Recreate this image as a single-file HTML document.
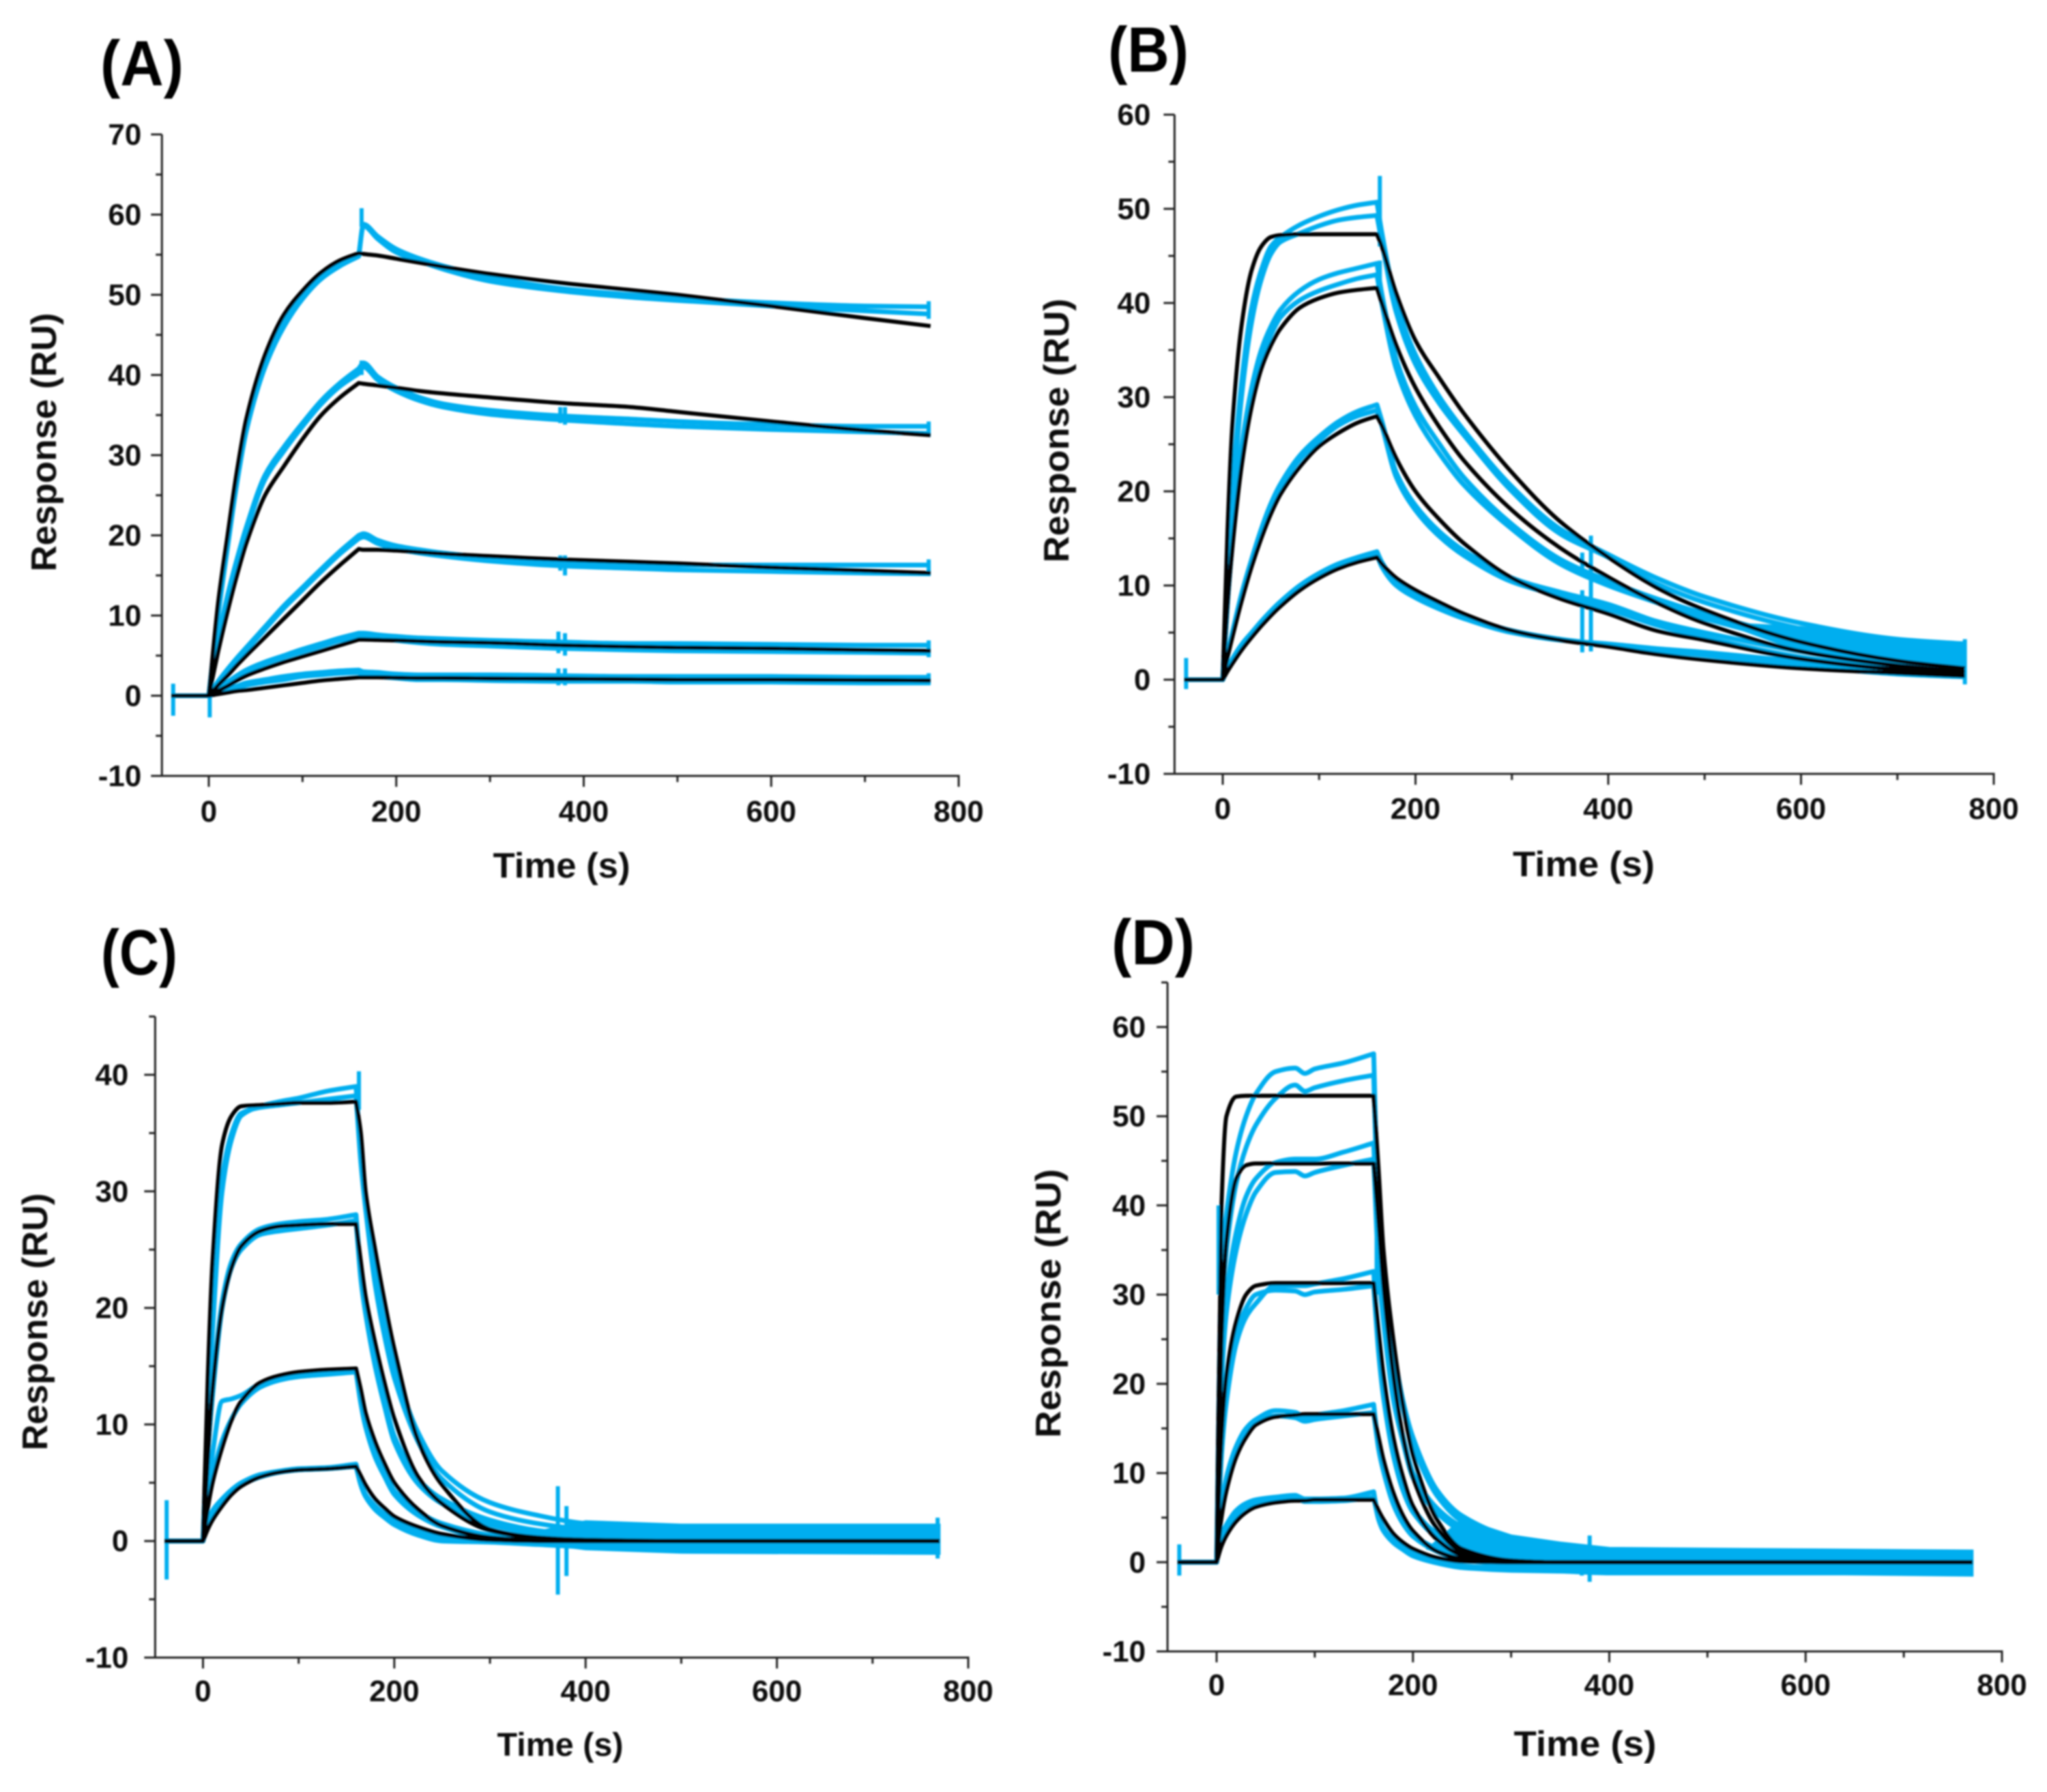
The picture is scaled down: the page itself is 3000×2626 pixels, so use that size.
<!DOCTYPE html>
<html lang="en">
<head>
<meta charset="utf-8">
<title>Sensorgram panels A to D</title>
<style>
html,body{margin:0;padding:0;background:#fff;}
svg{display:block;}
text{font-family:"Liberation Sans",sans-serif;font-weight:bold;fill:#111;}
.tick{font-size:44px;}
.title{font-size:52px;}
.panel{font-size:94px;fill:#000;}
</style>
</head>
<body>
<svg id="chart" xmlns="http://www.w3.org/2000/svg" width="3000" height="2626" viewBox="0 0 3000 2626">
<defs><filter id="soft" x="0" y="0" width="100%" height="100%"><feGaussianBlur stdDeviation="1.2"/></filter></defs>
<rect width="3000" height="2626" fill="#fff"/>
<g filter="url(#soft)">
<g id="panel-a">
<text class="panel" x="147" y="125" textLength="122" lengthAdjust="spacingAndGlyphs">(A)</text>
<text class="title" x="823" y="1286" text-anchor="middle" textLength="201" lengthAdjust="spacingAndGlyphs">Time (s)</text>
<text class="title" transform="translate(82,648) rotate(-90)" text-anchor="middle" textLength="379" lengthAdjust="spacingAndGlyphs">Response (RU)</text>
</g>
<g id="panel-b">
<text class="panel" x="1624" y="105" textLength="118" lengthAdjust="spacingAndGlyphs">(B)</text>
<text class="title" x="2321" y="1284" text-anchor="middle" textLength="208" lengthAdjust="spacingAndGlyphs">Time (s)</text>
<text class="title" transform="translate(1566,631) rotate(-90)" text-anchor="middle" textLength="387" lengthAdjust="spacingAndGlyphs">Response (RU)</text>
</g>
<g id="panel-c">
<text class="panel" x="148" y="1428" textLength="112" lengthAdjust="spacingAndGlyphs">(C)</text>
<text class="title" x="821" y="2573" text-anchor="middle" textLength="185" lengthAdjust="spacingAndGlyphs" style="font-size:48px">Time (s)</text>
<text class="title" transform="translate(69,1937) rotate(-90)" text-anchor="middle" textLength="377" lengthAdjust="spacingAndGlyphs">Response (RU)</text>
</g>
<g id="panel-d">
<text class="panel" x="1629" y="1413" textLength="122" lengthAdjust="spacingAndGlyphs">(D)</text>
<text class="title" x="2323" y="2573" text-anchor="middle" textLength="209" lengthAdjust="spacingAndGlyphs">Time (s)</text>
<text class="title" transform="translate(1554,1910) rotate(-90)" text-anchor="middle" textLength="394" lengthAdjust="spacingAndGlyphs">Response (RU)</text>
</g>
</g>
</svg>
<script>
// Shared tick values
const xMajorTicks = [0, 200, 400, 600, 800];
const xMinorTicks = [100, 300, 500, 700];

// Panel A data
const aTimes = [-40,0,10,20,30,40,60,80,100,120,140,160,165,180,200,225,250,300,375,450,500,600,700,770];
const aFit1 = [0,0,11.6,20,28,34.5,42.5,47.5,50.5,52.8,54.3,55.2,55.1,54.9,54.5,54,53.5,52.6,51.5,50.6,50,48.6,47.1,46.1];
const aFit2 = [0,0,5.5,10.5,15,19,25,28.6,32,35,37.2,39,38.9,38.7,38.4,38,37.7,37.2,36.5,36,35.4,34.2,33.1,32.5];
const aFit3 = [0,0,1.3,2.5,3.8,5,7.3,9.6,11.9,14.2,16.3,18.3,18.2,18.2,18.1,17.9,17.7,17.4,17,16.7,16.5,16,15.6,15.3];
const aFit4 = [0,0,.6,1.2,1.9,2.5,3.4,4.2,4.9,5.6,6.3,7,7,6.95,6.9,6.8,6.7,6.6,6.3,6.1,6,5.9,5.7,5.6];
const aFit5 = [0,0,.2,.4,.6,.7,1,1.3,1.6,1.9,2.1,2.3,2.3,2.3,2.25,2.2,2.2,2.15,2.1,2.05,2,2,1.95,1.9];
const aObs1a = [0,0,10,18.5,26.5,33,41,46,49.5,52,53.6,54.8,58.8,57.3,55.7,54.5,53.6,52.2,50.8,50,49.6,49,48.6,48.5];
const aObs1b = [0,0,10.5,19,27,33.5,41.5,46.5,50,52.3,53.8,55,58.6,57,55.3,54.2,53.2,51.7,50.5,49.7,49.3,48.6,48,47.6];
const aObs2a = [0,0,7,12.5,17,21,27.5,31,34,36.8,39,40.8,41.5,39.8,38.4,37.2,36.4,35.6,34.9,34.5,34.2,33.8,33.6,33.6];
const aObs2b = [0,0,6.5,12,16.5,20.5,27,30.5,33.6,36.4,38.6,40.2,41,39.4,38,36.8,36,35.1,34.4,33.9,33.6,33.2,32.9,32.7];
const aObs3a = [0,0,1.8,3.3,4.7,6,8.6,11.2,13.5,15.8,18,20,20.2,19.4,18.7,18.2,17.8,17.2,16.6,16.4,16.3,16.3,16.3,16.3];
const aObs3b = [0,0,1.6,3,4.4,5.7,8.3,10.9,13.2,15.5,17.7,19.6,19.8,19,18.3,17.8,17.4,16.8,16.2,15.9,15.7,15.5,15.3,15.2];
const aObs4a = [0,0,.9,1.7,2.5,3.2,4.2,5,5.8,6.5,7.2,7.8,7.8,7.6,7.4,7.2,7.1,6.9,6.7,6.5,6.5,6.4,6.3,6.3];
const aObs4b = [0,0,.8,1.5,2.3,3,4,4.8,5.5,6.2,6.9,7.4,7.5,7.2,6.9,6.6,6.4,6.2,5.9,5.7,5.6,5.5,5.4,5.3];
const aObs5a = [0,0,.4,.8,1.2,1.6,2,2.4,2.7,2.9,3.1,3.2,3,2.9,2.7,2.6,2.6,2.6,2.5,2.4,2.4,2.4,2.3,2.3];
const aObs5b = [0,0,.3,.6,1,1.3,1.7,2,2.4,2.6,2.8,2.9,2.6,2.4,2.2,2,2,1.9,1.8,1.8,1.7,1.7,1.6,1.6];
const aSpikes = [[-38,-2.5,1.5],[1,-2.7,1],[163,58.5,60.8],[163,40,41.8],[373,1.3,3.4],[380,1.3,3.4],[373,5.3,8],[380,5,7.8],[375,34,36],[380,33.8,36],[375,15.6,17.5],[380,15,17.5],[768,1.4,2.8],[768,4.8,6.9],[768,15,17],[768,32.3,34.2],[768,47,49.2]];
const aYMajor = [-10,0,10,20,30,40,50,60,70];

// Panel B data
const bTimes = [-40,0,5,10,20,30,40,50,60,80,100,120,140,160,165,180,200,225,250,300,350,400,450,500,600,700,770];
const bFit1 = [0,0,16,27,38,43.5,46,47,47.2,47.3,47.3,47.3,47.3,47.3,46,41,36,32,28.3,22,16.8,13,9.8,7.4,4,2,1.2];
const bFit2 = [0,0,8,14,23,29,33,35.5,37.3,39.5,40.5,41.1,41.4,41.6,40,35.5,31,26.8,23.3,18,14,10.9,8.2,6,3,1.5,.8];
const bFit3 = [0,0,2.4,4.5,8.5,12,15,17.6,19.7,22.6,24.8,26.2,27.3,28,27,23.5,20,17,14.5,10.8,8.6,7,5.2,4.2,2.2,1.1,.8];
const bFit4 = [0,0,.9,1.7,3.2,4.5,5.7,6.8,7.8,9.5,10.8,11.8,12.5,13,12.3,10.8,9.5,8.2,7,5.2,4.2,3.5,2.7,2.1,1.2,.7,.4];
const bObs1a = [0,0,11,20,32,39.5,43.5,46,47,48.3,49.2,49.9,50.4,50.7,47.5,40,34.5,30,26.5,20.5,16,13.3,10.8,8.8,6,4.3,3.8];
const bObs1b = [0,0,10,18.5,30.5,38,42.5,45.2,46.5,47.4,48.2,48.8,49.1,49.3,46.5,39,33.5,29.3,26,20,15.5,13,10.2,8.2,5.4,3.6,3];
const bObs2a = [0,0,8.5,15,25,31,35,37.5,39.3,41.3,42.5,43.2,43.7,44.2,41,34,29,25,21.5,16.5,12.8,10.5,8.6,7,4.5,3,2.2];
const bObs2b = [0,0,8.2,14.5,24,30,34,36.6,38.5,40.3,41.3,42,42.6,43,40,33,28,24,20.7,16,12.3,10,8.2,6.5,4,2.4,1.6];
const bObs3a = [0,0,2.8,5,9.3,12.8,16,18.7,20.8,23.8,25.8,27.4,28.5,29.2,27.5,22,18.5,15.7,13.7,10.8,9.3,8,6.2,5,3,1.6,1.1];
const bObs3b = [0,0,2.6,4.8,9,12.4,15.6,18.3,20.4,23.4,25.4,27,28,28.6,27,21.5,18,15.2,13.2,10.4,8.9,7.5,5.8,4.5,2.4,1.2,.7];
const bObs4a = [0,0,1.2,2.2,3.8,5,6.2,7.3,8.3,10,11.3,12.3,13,13.6,12.5,10.3,9,7.8,6.8,5.2,4.3,3.7,3.1,2.6,1.5,.6,.3];
const bObs4b = [0,0,1.1,2,3.6,4.8,6,7.1,8,9.7,11,12,12.7,13.3,12,10,8.7,7.5,6.5,5,4.2,3.8,3.3,2.9,1.9,1,.6];
const bSpikes = [[-38,-1,2.3],[163,46,53.5],[163,41,44.5],[373,2.9,9.5],[382,3,15.3],[373,11,13.5],[770,-.5,4.3]];
const bBandTimes = [520,600,700,770];
const bBandTop = [6,5.6,4.2,3.9];
const bBandBottom = [6,3,1,.2];
const bYMajor = [-10,0,10,20,30,40,50,60];

// Panel C data
const cTimes = [-40,0,5,10,20,30,40,60,80,100,130,160,165,170,180,190,200,225,250,300,350,400,500,770];
const cFit1 = [0,0,14,24,34,36.5,37.3,37.4,37.5,37.6,37.6,37.7,35,30,25,20.5,16.5,8.6,4.8,1,.3,.1,0,0];
const cFit2 = [0,0,7,13,20,23.5,25.3,26.6,27,27.1,27.2,27.2,24,21,17,13.5,10.5,5.5,3.2,.9,.25,0,0,0];
const cFit3 = [0,0,2.8,5,8,10.4,12,13.6,14.2,14.5,14.7,14.8,13,11,8.5,6.6,5,2.7,1.3,.3,.05,0,0,0];
const cFit4 = [0,0,1,1.8,3,4,4.7,5.5,5.9,6.1,6.2,6.4,5.6,4.8,3.6,2.8,2.1,1.2,.6,.1,0,0,0,0];
const cObs1a = [0,0,10,18,30,34.5,36.5,37.3,37.7,38,38.6,39,33,29,23,18.5,15,9.3,6,3.3,2.2,1.5,1,1];
const cObs1b = [0,0,11,19,31,35,36.7,37.2,37.4,37.6,37.9,38.2,32.5,28.5,22,17.5,14,8.5,5.3,2.5,1.5,1,.7,.7];
const cObs2a = [0,0,8,13,20.5,24,25.5,26.8,27.2,27.4,27.6,28,23,20,15.5,12,9,5.3,3.6,1.8,.9,.5,.3,.3];
const cObs2b = [0,0,7.5,12.5,20,23.5,25,26.3,26.6,26.8,27.1,27.5,22.5,19.5,15,11.5,8.5,4.9,3.2,1.4,.6,.2,0,-.1];
const cObs3a = [0,0,4,7.5,12,12.2,12.5,13.5,14,14.3,14.5,14.7,12,10,7.5,5.8,4.3,2.5,1.5,.5,0,-.2,-.3,-.3];
const cObs3b = [0,0,3,5.5,8.6,10.5,11.8,13.2,13.8,14.1,14.3,14.5,11.8,9.8,7.2,5.5,4,2.2,1.2,.2,-.2,-.4,-.5,-.5];
const cObs4a = [0,0,1.5,2.6,3.6,4.4,5,5.7,6,6.2,6.3,6.6,5,4,3,2.3,1.8,.8,.3,.2,.1,.1,.1,.1];
const cObs4b = [0,0,1.3,2.3,3.3,4.2,4.8,5.5,5.9,6.1,6.2,6.4,4.8,3.8,2.7,2,1.4,.5,0,-.1,-.3,-.5,-.7,-.7];
const cSpikes = [[-38,-3.3,3.5],[371,-4.6,4.7],[380,-3,3],[163,37,40.3],[768,-1.5,2]];
const cBandTimes = [350,400,500,770];
const cBandTop = [.8,1.7,1.4,1.4];
const cBandBottom = [-.2,-.7,-1,-1.1];
const cYMajor = [-10,0,10,20,30,40];

// Panel D data
const dTimes = [-40,0,5,10,20,30,40,60,80,90,100,130,160,165,170,180,190,200,225,250,300,350,400,770];
const dFit1 = [0,0,40,50,52.2,52.3,52.3,52.3,52.3,52.3,52.3,52.3,52.3,44,35,25,17.5,12,4.7,1.5,.2,0,0,0];
const dFit2 = [0,0,25,36,43,44.5,44.7,44.7,44.7,44.7,44.7,44.7,44.7,38,31,21,14,9.5,3.7,1.2,.15,0,0,0];
const dFit3 = [0,0,14,21,27,30,31,31.3,31.3,31.3,31.3,31.3,31.3,26,21,14,9.5,6.3,2.5,.8,.1,0,0,0];
const dFit4 = [0,0,5,8,11.8,14,15.4,16.3,16.5,16.6,16.6,16.6,16.6,14,11.5,7.8,5.2,3.5,1.2,.4,0,0,0,0];
const dFit5 = [0,0,1.8,3,4.6,5.6,6.2,6.7,6.9,6.9,7,7,7,5.8,4.8,3.2,2.2,1.5,.5,.1,0,0,0,0];
const dObs1a = [0,0,33,39,46,50,52.5,55,55.4,54.8,55.3,56,57,38,32,24,18,14,8,5.2,2.8,1.8,1.2,1];
const dObs1b = [0,0,28,35,42.5,46.5,49,52,53.5,52.8,53.2,54,54.6,37,31,23,17.2,13.2,7.4,4.6,2.3,1.4,.9,.6];
const dObs2a = [0,0,22,30,37,41,43,44.8,45.2,45.2,45.2,46,47,34,28,19,14,10,6,4,2.2,1.4,1,.9];
const dObs2b = [0,0,20,28,35,39,41.5,43.7,43.8,43.3,43.7,44.5,45.2,33,27,18.3,13.4,9.5,5.5,3.5,1.8,1,.6,.5];
const dObs3a = [0,0,12,18,24.5,27.5,29,31,31,31,31.2,31.8,32.6,24,19,12.5,8.5,6,3.2,2,1,.6,.3,.3];
const dObs3b = [0,0,13,19,25.5,28.5,30,30.5,30.4,30,30.3,30.6,31,23.5,18.5,12,8,5.6,2.8,1.6,.6,.2,0,0];
const dObs4a = [0,0,6,9.5,13,15,16,17,16.8,16.3,16.5,17,17.7,13,10.5,6.8,4.6,3.1,1.5,.6,-.1,-.5,-.7,-.7];
const dObs4b = [0,0,5.6,9,12.6,14.6,15.6,16.4,16.2,15.8,16,16.4,16.8,12.7,10.2,6.5,4.3,2.9,1.2,.3,-.3,-.7,-.9,-.9];
const dObs5a = [0,0,3,4.2,5.8,6.6,7,7.3,7.5,7.1,7.1,7.2,7.9,5,3.8,2.5,1.7,1,.1,-.4,-.7,-.8,-1,-1];
const dObs5b = [0,0,2.6,3.8,5.3,6.2,6.6,7,7.2,6.8,6.8,6.9,7.3,4.8,3.5,2.2,1.4,.7,-.1,-.6,-.9,-1,-1.2,-1.2];
const dSpikes = [[-38,-1.5,2],[2,30,40],[163,30,46],[380,-2.2,3],[372,-1.5,1.7]];
const dBandTimes = [215,250,300,350,400,770];
const dBandTop = [1.5,4.8,3,2.2,1.6,1.3];
const dBandBottom = [1.5,.4,-.9,-1,-1.1,-1.5];
const dYMajor = [-10,0,10,20,30,40,50,60];

const NS = 'http://www.w3.org/2000/svg';
const BLUE = '#00aeef';

function mk(parent, tag) {
  const el = document.createElementNS(NS, tag);
  parent.appendChild(el);
  return el;
}

// Monotone cubic through the screen points; corners stay sharp at the
// injection start (t = 0) and the switch to dissociation (t = 160).
function smoothPath(ts, xs, ys) {
  const n = xs.length;
  const slope = [];
  for (let i = 0; i < n - 1; i++) slope.push((ys[i + 1] - ys[i]) / (xs[i + 1] - xs[i]));
  const tanL = new Array(n).fill(0);
  const tanR = new Array(n).fill(0);
  for (let i = 0; i < n; i++) {
    const a = i > 0 ? slope[i - 1] : slope[0];
    const b = i < n - 1 ? slope[i] : slope[n - 2];
    if (ts[i] === 0 || ts[i] === 160) {
      tanL[i] = a;
      tanR[i] = b;
    } else {
      const m = a * b <= 0 ? 0 : 2 * a * b / (a + b);
      tanL[i] = m;
      tanR[i] = m;
    }
  }
  let d = 'M' + xs[0].toFixed(1) + ' ' + ys[0].toFixed(1);
  for (let i = 0; i < n - 1; i++) {
    const h = (xs[i + 1] - xs[i]) / 3;
    d += 'C' + (xs[i] + h).toFixed(1) + ' ' + (ys[i] + tanR[i] * h).toFixed(1) + ' ' +
      (xs[i + 1] - h).toFixed(1) + ' ' + (ys[i + 1] - tanL[i + 1] * h).toFixed(1) + ' ' +
      xs[i + 1].toFixed(1) + ' ' + ys[i + 1].toFixed(1);
  }
  return d;
}

function drawPanel(cfg) {
  const g = document.getElementById(cfg.id);
  const sx = v => cfg.x0 + (v / 800) * (cfg.x800 - cfg.x0);
  const sy = v => cfg.yLow + (v - cfg.minY) * (cfg.yRef - cfg.yLow) / (cfg.refY - cfg.minY);
  const lineOf = (ts, vs) => ts.map((t, i) => sx(t).toFixed(1) + ',' + sy(vs[i]).toFixed(1)).join(' ');
  const curveOf = (ts, vs) => smoothPath(ts, ts.map(sx), vs.map(sy));

  if (cfg.bandTimes) {
    const band = mk(g, 'polygon');
    
    
    const back = cfg.bandTimes.slice().reverse();
    const backV = cfg.bandBottom.slice().reverse();
    band.setAttribute('points', lineOf(cfg.bandTimes, cfg.bandTop) + ' ' + lineOf(back, backV));
    band.setAttribute('fill', BLUE);
    band.setAttribute('stroke', BLUE);
    band.setAttribute('stroke-width', '3');
  }
  cfg.observed.forEach(vs => {
    const line = mk(g, 'path');
    
    
    line.setAttribute('d', curveOf(cfg.times, vs));
    line.setAttribute('fill', 'none');
    line.setAttribute('stroke', BLUE);
    line.setAttribute('stroke-width', '7');
    line.setAttribute('stroke-linejoin', 'round');
  });
  cfg.spikes.forEach(s => {
    const spike = mk(g, 'line');
    
    
    spike.setAttribute('x1', sx(s[0]));
    spike.setAttribute('x2', sx(s[0]));
    spike.setAttribute('y1', sy(s[1]));
    spike.setAttribute('y2', sy(s[2]));
    spike.setAttribute('stroke', BLUE);
    spike.setAttribute('stroke-width', '6');
  });
  cfg.fits.forEach(vs => {
    const line = mk(g, 'path');
    
    
    line.setAttribute('d', curveOf(cfg.times, vs));
    line.setAttribute('fill', 'none');
    line.setAttribute('stroke', '#000');
    line.setAttribute('stroke-width', '6');
    line.setAttribute('stroke-linejoin', 'round');
  });

  const axisX = sx(-50);
  const yBase = sy(cfg.minY);
  const yAxis = mk(g, 'line');
  
  
  yAxis.setAttribute('x1', axisX);
  yAxis.setAttribute('x2', axisX);
  yAxis.setAttribute('y1', sy(cfg.maxY));
  yAxis.setAttribute('y2', yBase + 1.5);
  yAxis.setAttribute('stroke', '#222');
  yAxis.setAttribute('stroke-width', '3');
  const xAxis = mk(g, 'line');
  
  
  xAxis.setAttribute('x1', axisX);
  xAxis.setAttribute('x2', sx(800) + 1.5);
  xAxis.setAttribute('y1', yBase);
  xAxis.setAttribute('y2', yBase);
  xAxis.setAttribute('stroke', '#222');
  xAxis.setAttribute('stroke-width', '3');

  xMajorTicks.forEach(v => {
    const t = mk(g, 'line');
    
    
    t.setAttribute('x1', sx(v));
    t.setAttribute('x2', sx(v));
    t.setAttribute('y1', yBase);
    t.setAttribute('y2', yBase + 16);
    t.setAttribute('stroke', '#222');
    t.setAttribute('stroke-width', '3');
    const lab = mk(g, 'text');
    
    
    lab.setAttribute('class', 'tick');
    lab.setAttribute('x', sx(v));
    lab.setAttribute('y', yBase + cfg.xLabelGap);
    lab.setAttribute('text-anchor', 'middle');
    lab.textContent = String(v);
  });
  xMinorTicks.forEach(v => {
    const t = mk(g, 'line');
    
    
    t.setAttribute('x1', sx(v));
    t.setAttribute('x2', sx(v));
    t.setAttribute('y1', yBase);
    t.setAttribute('y2', yBase + 9);
    t.setAttribute('stroke', '#222');
    t.setAttribute('stroke-width', '3');
  });
  cfg.yMajor.forEach(v => {
    const t = mk(g, 'line');
    
    
    t.setAttribute('x1', axisX - 16);
    t.setAttribute('x2', axisX);
    t.setAttribute('y1', sy(v));
    t.setAttribute('y2', sy(v));
    t.setAttribute('stroke', '#222');
    t.setAttribute('stroke-width', '3');
    const lab = mk(g, 'text');
    
    
    lab.setAttribute('class', 'tick');
    lab.setAttribute('x', axisX - cfg.yLabelGap);
    lab.setAttribute('y', sy(v) + 15);
    lab.setAttribute('text-anchor', 'end');
    lab.textContent = String(v);
    const minorV = v + 5;
    if (minorV <= cfg.maxY) {
      const m = mk(g, 'line');
      
      
      m.setAttribute('x1', axisX - 9);
      m.setAttribute('x2', axisX);
      m.setAttribute('y1', sy(minorV));
      m.setAttribute('y2', sy(minorV));
      m.setAttribute('stroke', '#222');
      m.setAttribute('stroke-width', '3');
    }
  });
}

drawPanel({id:'panel-a', x0:306, x800:1405, yLow:1137, minY:-10, yRef:197, refY:70, maxY:70, xLabelGap:67, yLabelGap:30,
  times:aTimes, fits:[aFit1,aFit2,aFit3,aFit4,aFit5],
  observed:[aObs1a,aObs1b,aObs2a,aObs2b,aObs3a,aObs3b,aObs4a,aObs4b,aObs5a,aObs5b],
  spikes:aSpikes, yMajor:aYMajor});
drawPanel({id:'panel-b', x0:1792, x800:2922, yLow:1134, minY:-10, yRef:168, refY:60, maxY:60, xLabelGap:66, yLabelGap:35,
  times:bTimes, fits:[bFit1,bFit2,bFit3,bFit4],
  observed:[bObs1a,bObs1b,bObs2a,bObs2b,bObs3a,bObs3b,bObs4a,bObs4b],
  spikes:bSpikes, bandTimes:bBandTimes, bandTop:bBandTop, bandBottom:bBandBottom, yMajor:bYMajor});
drawPanel({id:'panel-c', x0:297.5, x800:1419, yLow:2429, minY:-10, yRef:1575, refY:40, maxY:45, xLabelGap:64, yLabelGap:39,
  times:cTimes, fits:[cFit1,cFit2,cFit3,cFit4],
  observed:[cObs1a,cObs1b,cObs2a,cObs2b,cObs3a,cObs3b,cObs4a,cObs4b],
  spikes:cSpikes, bandTimes:cBandTimes, bandTop:cBandTop, bandBottom:cBandBottom, yMajor:cYMajor});
drawPanel({id:'panel-d', x0:1783, x800:2934, yLow:2420, minY:-10, yRef:1505, refY:60, maxY:65, xLabelGap:64, yLabelGap:32,
  times:dTimes, fits:[dFit1,dFit2,dFit3,dFit4,dFit5],
  observed:[dObs1a,dObs1b,dObs2a,dObs2b,dObs3a,dObs3b,dObs4a,dObs4b,dObs5a,dObs5b],
  spikes:dSpikes, bandTimes:dBandTimes, bandTop:dBandTop, bandBottom:dBandBottom, yMajor:dYMajor});
</script>
</body>
</html>
